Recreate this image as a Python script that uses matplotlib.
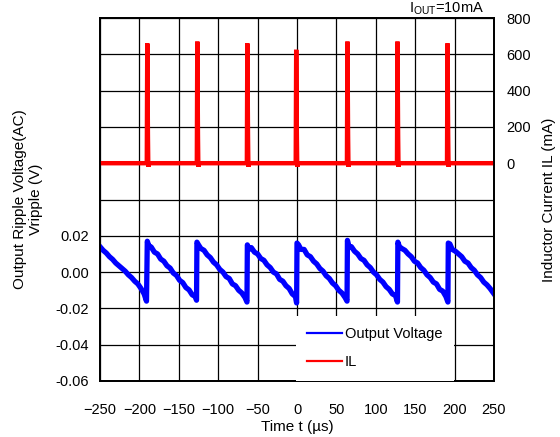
import matplotlib
matplotlib.use("Agg")
import matplotlib.pyplot as plt
from matplotlib.lines import Line2D

plt.rcParams["font.family"] = ["Liberation Sans", "DejaVu Sans"]
plt.rcParams["mathtext.fontset"] = "custom"
plt.rcParams["mathtext.rm"] = "Liberation Sans"

# -----------------------------
# Data (read off the scope capture)
# -----------------------------
# output ripple voltage, V
volt_t = [
    -250, -246, -242, -238, -234, -230, -226, -222, -218, -214, -210, -206, -202, -198, -194, -191,
    -190, -188, -185, -181, -177, -173, -169, -165, -161, -157, -153, -149, -145, -141, -137, -133, -129, -127.5,
    -127, -125, -122, -118, -114, -110, -106, -102, -98, -94, -90, -86, -82, -78, -74, -70, -66, -63.5,
    -63, -61, -58, -54, -50, -46, -42, -38, -34, -30, -26, -22, -18, -14, -10, -6, -2, -0.5,
    0, 2, 5, 9, 13, 17, 21, 25, 29, 33, 37, 41, 45, 49, 53, 57, 61, 63.5,
    64, 66, 69, 73, 77, 81, 85, 89, 93, 97, 101, 105, 109, 113, 117, 121, 125, 127.5,
    128, 130, 133, 137, 141, 145, 149, 153, 157, 161, 165, 169, 173, 177, 181, 185, 189, 191.5,
    192, 194, 197, 201, 205, 209, 213, 217, 221, 225, 229, 233, 237, 241, 245, 250,
]
volt_v = [
    0.0140, 0.0120, 0.0105, 0.0085, 0.0070, 0.0050, 0.0035, 0.0020, 0.0005, -0.0015, -0.0030, -0.0050, -0.0065, -0.0090, -0.0120, -0.0160,
    0.0170, 0.0145, 0.0138, 0.0110, 0.0100, 0.0072, 0.0060, 0.0035, 0.0022, -0.0005, -0.0018, -0.0045, -0.0058, -0.0085, -0.0098, -0.0125, -0.0135, -0.0155,
    0.0165, 0.0150, 0.0130, 0.0120, 0.0095, 0.0080, 0.0055, 0.0040, 0.0015, 0.0000, -0.0025, -0.0035, -0.0065, -0.0075, -0.0100, -0.0115, -0.0140, -0.0165,
    0.0150, 0.0125, 0.0135, 0.0110, 0.0100, 0.0075, 0.0065, 0.0040, 0.0025, 0.0000, -0.0010, -0.0040, -0.0050, -0.0075, -0.0090, -0.0120, -0.0135, -0.0170,
    0.0160, 0.0150, 0.0125, 0.0125, 0.0095, 0.0085, 0.0060, 0.0045, 0.0020, 0.0005, -0.0020, -0.0035, -0.0060, -0.0075, -0.0100, -0.0115, -0.0140, -0.0160,
    0.0175, 0.0140, 0.0140, 0.0115, 0.0100, 0.0075, 0.0065, 0.0040, 0.0025, 0.0000, -0.0015, -0.0040, -0.0055, -0.0080, -0.0095, -0.0120, -0.0130, -0.0165,
    0.0165, 0.0140, 0.0130, 0.0120, 0.0100, 0.0085, 0.0060, 0.0050, 0.0025, 0.0010, -0.0015, -0.0030, -0.0055, -0.0065, -0.0095, -0.0105, -0.0135, -0.0165,
    0.0160, 0.0155, 0.0125, 0.0115, 0.0100, 0.0085, 0.0060, 0.0050, 0.0025, 0.0010, -0.0015, -0.0030, -0.0055, -0.0070, -0.0090, -0.0120,
]

# inductor current, mA
il_t = [
    -250,
    -190.6, -190, -189.2, -188.8, -188.6, -188.2,
    -127.1, -126.5, -125.7, -125.3, -125.1, -124.7,
    -63.6, -63, -62.2, -61.8, -61.6, -61.2,
    -1.6, -1, -0.2, 0.2, 0.4, 0.8,
    63.4, 64, 64.8, 65.2, 65.4, 65.8,
    126.9, 127.5, 128.3, 128.7, 128.9, 129.3,
    190.4, 191, 191.8, 192.2, 192.4, 192.8,
    250,
]
il_v = [
    0,
    0, 660, 150, 0, -20, 0,
    0, 670, 150, 0, -20, 0,
    0, 660, 150, 0, -20, 0,
    0, 625, 150, 0, -20, 0,
    0, 670, 150, 0, -20, 0,
    0, 670, 150, 0, -20, 0,
    0, 660, 150, 0, -20, 0,
    0,
]

volt_ticks = [-0.06, -0.04, -0.02, 0.00, 0.02, 0.04, 0.06, 0.08, 0.10, 0.12, 0.14]
volt_labels = ["-0.06", "-0.04", "-0.02", "0.00", "0.02", "", "", "", "", "", ""]
il_ticks = [0, 200, 400, 600, 800]
x_ticks = [-250, -200, -150, -100, -50, 0, 50, 100, 150, 200, 250]

# -----------------------------
# Figure
# -----------------------------
fs = 10.5
fig = plt.figure(figsize=(5.6, 4.37), dpi=100)
ax = fig.add_axes([100 / 560, 1 - 381 / 437, 394 / 560, 363 / 437])
ax2 = ax.twinx()

ax.set_xlim(-250, 250)
ax.set_ylim(-0.06, 0.14)
ax2.set_ylim(-1200, 800)

ax.set_xticks(x_ticks)
ax.set_yticks(volt_ticks)
ax.set_yticklabels(volt_labels)
ax2.set_yticks(il_ticks)

ax.grid(True, color="black", linewidth=0.9)
ax.tick_params(axis="both", length=0, labelsize=fs)
ax.tick_params(axis="x", pad=16)
ax.tick_params(axis="y", pad=8)
ax2.tick_params(axis="y", length=0, labelsize=fs, pad=9)

for a in (ax, ax2):
    for s in a.spines.values():
        s.set_linewidth(1.3)

ax2.plot(il_t, il_v, color="#ff0000", linewidth=3.2, solid_joinstyle="miter")
ax.plot(volt_t, volt_v, color="#0000ff", linewidth=3.8)

handles = [
    Line2D([], [], color="#0000ff", linewidth=1.6),
    Line2D([], [], color="#ff0000", linewidth=1.6),
]
leg = ax2.legend(handles, ["Output Voltage", "IL"], loc="lower left",
                 bbox_to_anchor=(0.497, 0.0), borderaxespad=0, fontsize=fs,
                 handlelength=2.4, handletextpad=0.15, labelspacing=0.95,
                 borderpad=0.8, fancybox=False, framealpha=1, edgecolor="white")
leg.get_frame().set_linewidth(0)

ax.set_xlabel("Time t (µs)", fontsize=11, labelpad=2)
mid_y = 1 - (18 + 381) / 2 / 437
fig.text(28 / 560, mid_y, "Output Ripple Voltage(AC)\nVripple (V)",
         rotation=90, ha="center", va="center", fontsize=11, multialignment="center",
         linespacing=1.1)
fig.text(549 / 560, mid_y, "Inductor Current IL (mA)",
         rotation=90, ha="center", va="center", fontsize=11)
fig.text(447 / 560, 1 - 9 / 437, r"I$_{\mathregular{OUT}}$=10mA",
         ha="center", va="center", fontsize=10.5)

fig.savefig("out.png", dpi=100)
